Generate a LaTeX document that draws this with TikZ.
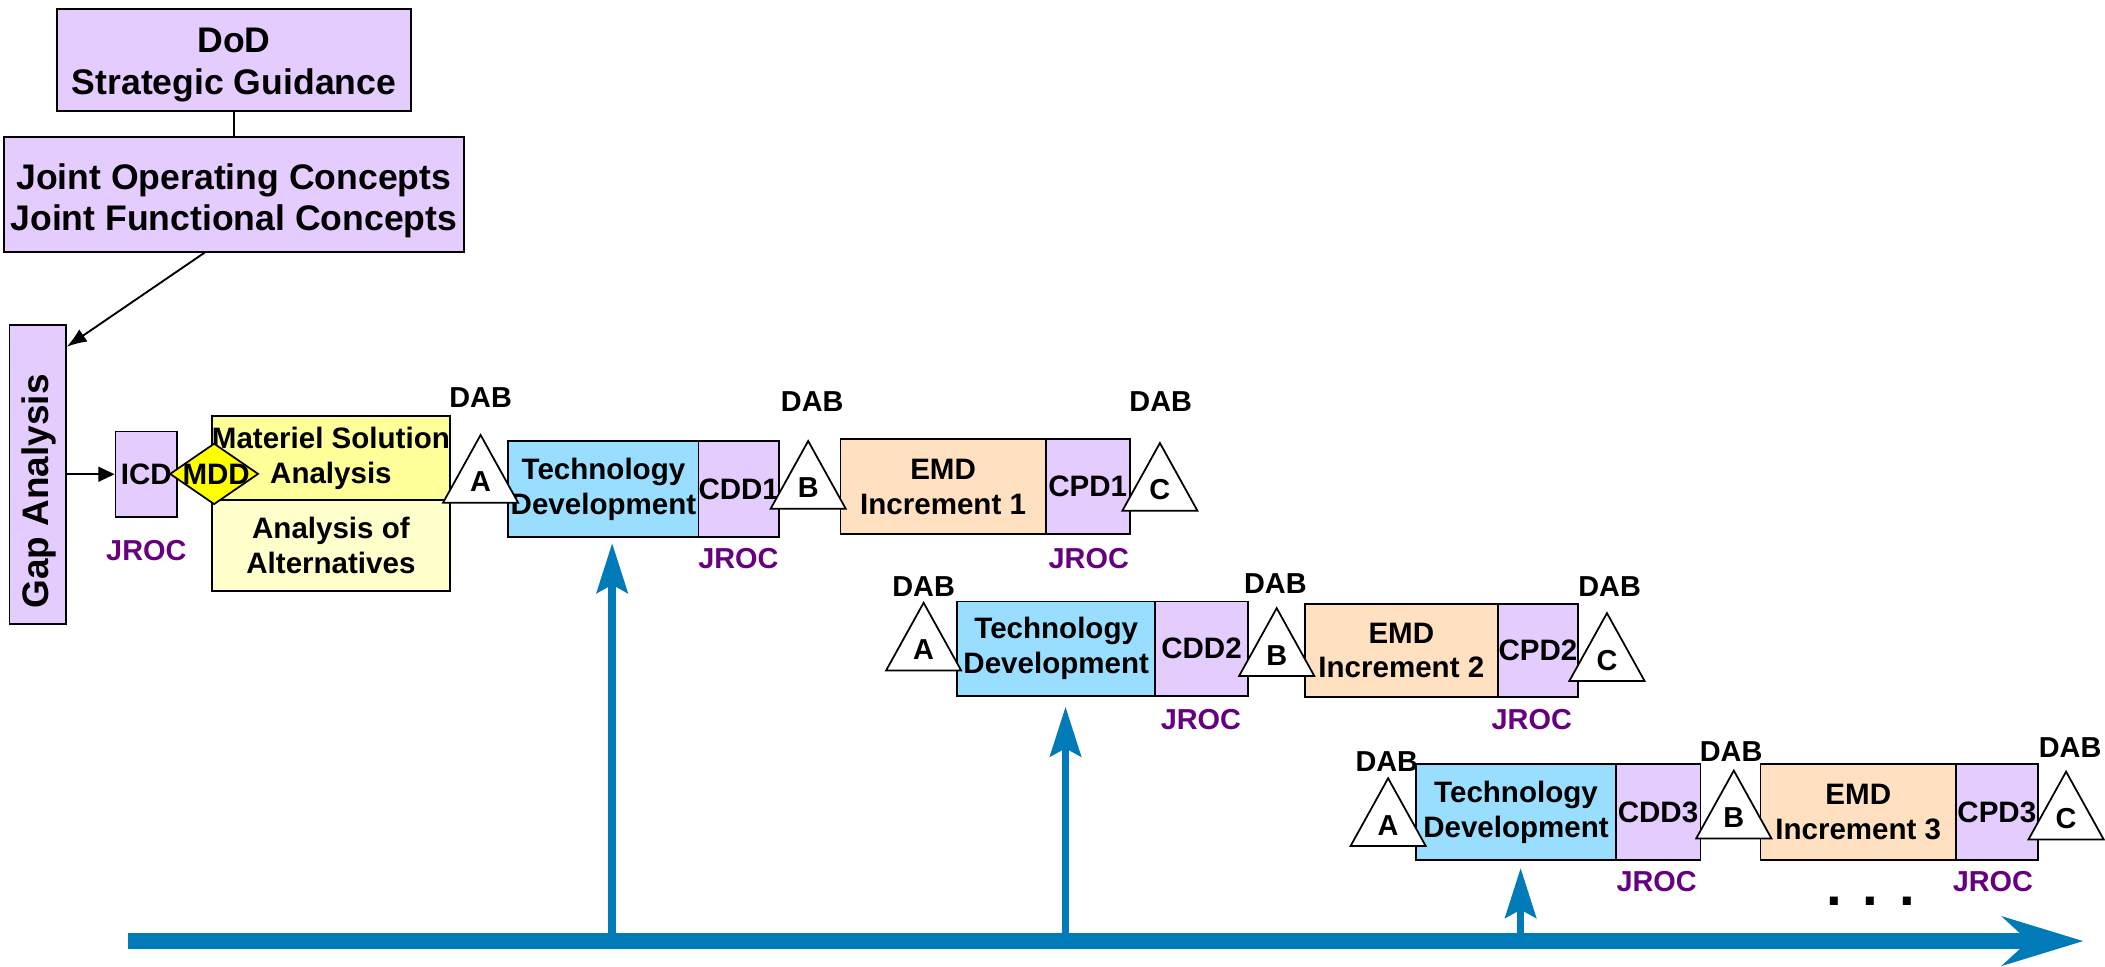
\documentclass[tikz,border=0pt]{standalone}
\usepackage{fontspec}
\setmainfont{Liberation Sans}
\usetikzlibrary{arrows.meta,shapes.geometric,calc}
\definecolor{lav}{RGB}{229,204,255}
\definecolor{tdblue}{RGB}{153,221,255}
\definecolor{peach}{RGB}{255,224,192}
\definecolor{msay}{RGB}{255,255,153}
\definecolor{aoay}{RGB}{255,255,204}
\definecolor{mddy}{RGB}{255,255,0}
\definecolor{jroc}{RGB}{102,0,128}
\definecolor{axisblue}{RGB}{0,123,184}
\tikzset{
  sz/.style 2 args={minimum width=#1, minimum height=#2},
  box/.style={draw=black, line width=1.3pt, inner sep=0pt, align=center,
    font=\fontsize{22}{26}\selectfont\bfseries},
  bigbox/.style={box, fill=lav},
  bigtext/.style={inner sep=0pt, align=center, font=\fontsize{26.5}{31}\selectfont\bfseries},
  lavbox/.style={box, fill=lav},
  tdbox/.style={box, fill=tdblue},
  emdbox/.style={box, fill=peach},
  msabox/.style={box, fill=msay},
  aoabox/.style={box, fill=aoay},
  lbl/.style={font=\fontsize{21.5}{25}\selectfont\bfseries, inner sep=0pt},
  jroclbl/.style={lbl, text=jroc},
  tri/.style={draw=black, fill=white, line width=1.3pt, line join=miter},
  conn/.style={draw=black, line width=1.4pt},
  blueup/.style={draw=axisblue, line width=5.5pt, -{Stealth[length=37pt,width=23pt,inset=6pt]}},
  bigaxis/.style={draw=axisblue, line width=12pt, -{Stealth[length=60pt,width=36pt,inset=19pt]}},
}
\newcommand\dabtri[4]{%
  \draw[tri] (#2,#3) -- ++(-28,50.5) -- ++(56,0) -- cycle;
  \node[lbl] (#1) at (#2,#3+35) {#4};}
\begin{document}
\begin{tikzpicture}[x=1pt,y=-1pt]
\useasboundingbox (0,0) rectangle (1568,720);

% top boxes
\node[bigbox, sz={263.2}{76.2}] (dod) at (174.3,44.6) {};
\node[bigtext] (dodtext) at ($(dod)+(0,4)$) {DoD\\Strategic Guidance};
\node[bigbox, sz={342.4}{85.7}] (joc) at (174.2,144.65) {};
\node[bigtext] (joctext) at ($(joc)+(0,5)$) {Joint Operating Concepts\\Joint Functional Concepts};
\node[lavbox, sz={42}{223}] (gap) at (28,353.5) {};
\node[font=\fontsize{27.5}{30}\selectfont\bfseries, inner sep=0pt, rotate=90] (gaptext) at (29,366) {Gap Analysis};

% connectors top
\draw[conn] (dod.south) -- (dod.south |- joc.north);
\coordinate (jocout) at (153.4,187.5);
\draw[conn, -{Latex[length=15pt,width=11pt]}] (jocout) -- ($(gap.north east)+(0,17)$);

% first row
\node[lavbox, sz={46}{63.5}] (icd) at (109,353.25) {ICD};
\node[msabox, sz={177}{62.5}] (msa) at (246.5,341.25) {Materiel Solution\\Analysis};
\node[aoabox, sz={177}{67.5}] (aoa) at (246.5,406.25) {Analysis of\\Alternatives};
\node[diamond, draw=black, fill=mddy, line width=1.3pt, inner sep=0pt,
      minimum width=66, minimum height=45.5] (mdd) at (159.5,353) {};
\node[lbl, font=\fontsize{22}{26}\selectfont\bfseries] (mddtext) at (161,353) {MDD};
\draw[conn, -{Triangle[length=12pt,width=11pt]}] (gap.east |- icd.west) -- (icd.west);

\node[tdbox, sz={142}{71.5}] (td1) at (449.5,364.25) {Technology\\Development};
\node[lavbox, sz={59.5}{71.5}] (cdd1) at (550.25,364.25) {CDD1};
\node[emdbox, sz={153}{71}] (emd1) at (702.5,362.5) {EMD\\Increment 1};
\node[lavbox, sz={62.5}{71}] (cpd1) at (810.25,362.5) {CPD1};

% second row
\node[tdbox, sz={147.5}{70.5}] (td2) at (786.75,483.25) {Technology\\Development};
\node[lavbox, sz={69}{70.5}] (cdd2) at (895,483.25) {CDD2};
\node[emdbox, sz={143.7}{69}] (emd2) at (1043.85,484.5) {EMD\\Increment 2};
\node[lavbox, sz={59.7}{69}] (cpd2) at (1145.55,484.5) {CPD2};

% third row
\node[tdbox, sz={148.5}{71.6}] (td3) at (1129.25,604.8) {Technology\\Development};
\node[lavbox, sz={63.1}{71.6}] (cdd3) at (1235.05,604.8) {CDD3};
\node[emdbox, sz={145.6}{71.6}] (emd3) at (1384.2,604.8) {EMD\\Increment 3};
\node[lavbox, sz={60.8}{71.6}] (cpd3) at (1487.4,604.8) {CPD3};

% decision triangles
\dabtri{ta1}{358}{324}{A}
\dabtri{tb1}{602}{328.5}{B}
\dabtri{tc1}{864}{330}{C}
\dabtri{ta2}{688}{449}{A}
\dabtri{tb2}{951}{453}{B}
\dabtri{tc2}{1197}{456.7}{C}
\dabtri{ta3}{1034}{579.7}{A}
\dabtri{tb3}{1291.5}{574}{B}
\dabtri{tc3}{1539}{574.8}{C}

% DAB labels
\node[lbl] (dab1) at (358,296.5) {DAB};
\node[lbl] (dab2) at (605,299) {DAB};
\node[lbl] (dab3) at (864.6,299) {DAB};
\node[lbl] (dab4) at (688,437) {DAB};
\node[lbl] (dab5) at (950,434.5) {DAB};
\node[lbl] (dab6) at (1199,437) {DAB};
\node[lbl] (dab7) at (1033,567) {DAB};
\node[lbl] (dab8) at (1289.5,560) {DAB};
\node[lbl] (dab9) at (1542,557) {DAB};

% JROC labels
\node[jroclbl] (j0) at (109,410) {JROC};
\node[jroclbl] (j1) at (550,415.7) {JROC};
\node[jroclbl] (j2) at (811,415.7) {JROC};
\node[jroclbl] (j3) at (894.5,536) {JROC};
\node[jroclbl] (j4) at (1141,536) {JROC};
\node[jroclbl] (j5) at (1234,657) {JROC};
\node[jroclbl] (j6) at (1484.5,657) {JROC};

\node[font=\fontsize{42}{42}\selectfont\bfseries, inner sep=0pt] (dots) at (1393.5,671.6) {. . .};

% time axis
\coordinate (axstart) at (95,701);
\coordinate (axend) at (1552,701);
\coordinate (up1) at (456,404.6);
\coordinate (up2) at (793.7,526.4);
\coordinate (up3) at (1132.7,646.6);
\draw[blueup] (up1 |- axstart) -- (up1);
\draw[blueup] (up2 |- axstart) -- (up2);
\draw[blueup] (up3 |- axstart) -- (up3);
\draw[bigaxis] (axstart) -- (axend);
\end{tikzpicture}
\end{document}
